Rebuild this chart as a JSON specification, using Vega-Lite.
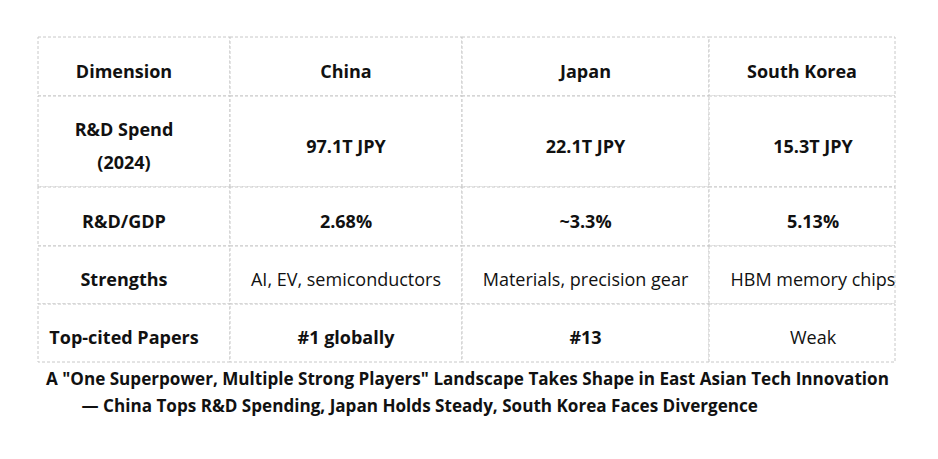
{
  "$schema": "https://vega.github.io/schema/vega-lite/v6.json",
  "width": 857,
  "height": 325,
  "autosize": "none",
  "padding": {"left": 38, "top": 37, "right": 43, "bottom": 97},
  "background": "white",
  "config": {"view": {"stroke": null}, "font": "Open Sans"},
  "title": {
    "text": ["A \"One Superpower, Multiple Strong Players\" Landscape Takes Shape in East Asian Tech Innovation", "\u200b\u00a0\u00a0\u00a0\u00a0\u00a0\u00a0\u00a0\u00a0— China Tops R&D Spending, Japan Holds Steady, South Korea Faces Divergence"],
    "orient": "bottom",
    "anchor": "start",
    "frame": "group",
    "dx": 8,
    "offset": 8,
    "font": "Open Sans",
    "fontSize": 17.1,
    "fontWeight": "bold",
    "color": "#111",
    "lineHeight": 27.5,
    "baseline": "top"
  },
  "data": {
    "values": [
      {"r": 0, "c": 0, "t": "Dimension"},
      {"r": 0, "c": 1, "t": "China"},
      {"r": 0, "c": 2, "t": "Japan"},
      {"r": 0, "c": 3, "t": "South Korea"},
      {"r": 1, "c": 0, "t": "R&D Spend\n(2024)"},
      {"r": 1, "c": 1, "t": "97.1T JPY"},
      {"r": 1, "c": 2, "t": "22.1T JPY"},
      {"r": 1, "c": 3, "t": "15.3T JPY"},
      {"r": 2, "c": 0, "t": "R&D/GDP"},
      {"r": 2, "c": 1, "t": "2.68%"},
      {"r": 2, "c": 2, "t": "~3.3%"},
      {"r": 2, "c": 3, "t": "5.13%"},
      {"r": 3, "c": 0, "t": "Strengths"},
      {"r": 3, "c": 1, "t": "AI, EV, semiconductors"},
      {"r": 3, "c": 2, "t": "Materials, precision gear"},
      {"r": 3, "c": 3, "t": "HBM memory chips"},
      {"r": 4, "c": 0, "t": "Top-cited Papers"},
      {"r": 4, "c": 1, "t": "#1 globally"},
      {"r": 4, "c": 2, "t": "#13"},
      {"r": 4, "c": 3, "t": "Weak"}
    ]
  },
  "transform": [
    {"calculate": "datum.c + 1", "as": "c2"},
    {"calculate": "datum.r + 1", "as": "r2"},
    {"calculate": "datum.c + 0.5", "as": "cm"},
    {"calculate": "datum.r + 0.5", "as": "rm"}
  ],
  "encoding": {
    "x": {"field": "cm", "type": "quantitative", "axis": null,
          "scale": {"domain": [0, 1, 2, 3, 4], "range": [0, 192, 424, 671, 857], "zero": false, "nice": false}},
    "y": {"field": "rm", "type": "quantitative", "axis": null,
          "scale": {"domain": [0, 1, 2, 3, 4, 5], "range": [0, 59, 150, 209, 267, 325], "zero": false, "nice": false}},
    "text": {"field": "t"}
  },
  "layer": [
    {
      "mark": {"type": "rect", "fill": "white", "stroke": "#c8c8c8", "strokeWidth": 1, "strokeDash": [3, 2]},
      "encoding": {
        "x": {"field": "c", "type": "quantitative"},
        "x2": {"field": "c2"},
        "y": {"field": "r", "type": "quantitative"},
        "y2": {"field": "r2"},
        "text": null
      }
    },
    {
      "transform": [{"filter": "datum.c == 0 && datum.r != 1"}],
      "mark": {"type": "text", "fontSize": 18, "fontWeight": "bold", "color": "#111", "dx": -10, "dy": 6, "baseline": "middle"}
    },
    {
      "transform": [{"filter": "datum.c == 0 && datum.r == 1"}],
      "mark": {"type": "text", "fontSize": 18, "fontWeight": "bold", "color": "#111", "dx": -10, "dy": -11, "baseline": "middle", "lineBreak": "\n", "lineHeight": 33.5}
    },
    {
      "transform": [{"filter": "(datum.c == 1 || datum.c == 2) && datum.r != 3"}],
      "mark": {"type": "text", "fontSize": 18, "fontWeight": "bold", "color": "#111", "dy": 6, "baseline": "middle"}
    },
    {
      "transform": [{"filter": "(datum.c == 1 || datum.c == 2) && datum.r == 3"}],
      "mark": {"type": "text", "fontSize": 18, "fontWeight": "normal", "color": "#111", "dy": 6, "baseline": "middle"}
    },
    {
      "transform": [{"filter": "datum.c == 3 && datum.r == 0"}],
      "mark": {"type": "text", "fontSize": 18, "fontWeight": "bold", "color": "#111", "dy": 6, "baseline": "middle"}
    },
    {
      "transform": [{"filter": "datum.c == 3 && (datum.r == 1 || datum.r == 2)"}],
      "mark": {"type": "text", "fontSize": 18, "fontWeight": "bold", "color": "#111", "dx": 11, "dy": 6, "baseline": "middle"}
    },
    {
      "transform": [{"filter": "datum.c == 3 && datum.r >= 3"}],
      "mark": {"type": "text", "fontSize": 18, "fontWeight": "normal", "color": "#111", "dx": 11, "dy": 6, "baseline": "middle"}
    }
  ]
}
